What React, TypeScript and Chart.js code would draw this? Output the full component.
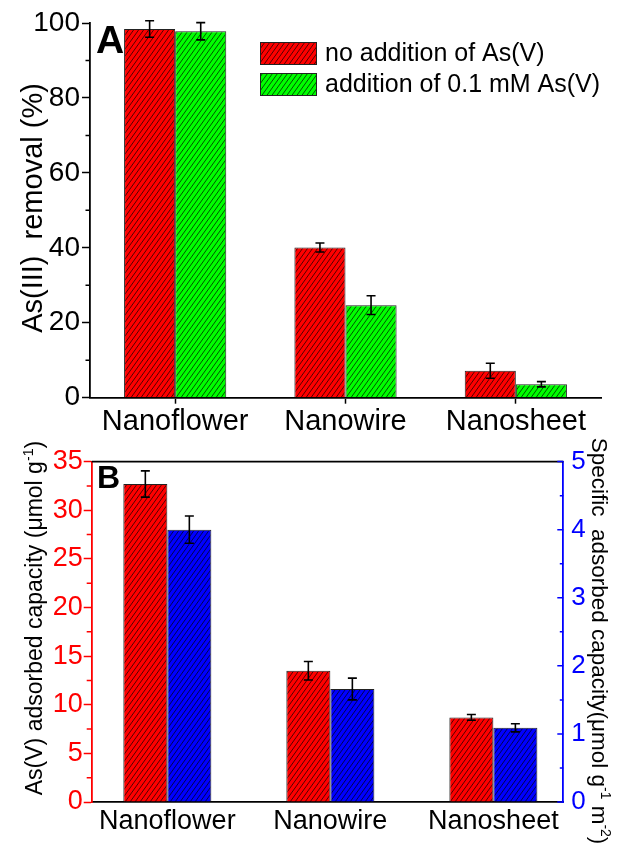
import React, { useEffect, useRef } from 'react';
import { Chart, registerables } from 'chart.js';

Chart.register(...registerables);

const FONT = "'Liberation Sans', Arial, Helvetica, sans-serif";

// ---------- data ----------
const categories = ['Nanoflower', 'Nanowire', 'Nanosheet'];

// Panel A
const seriesALabels = ['no addition of As(V)', 'addition of 0.1 mM As(V)'];
const removalNoAddition = [98.4, 40.1, 7.2];
const removalNoAdditionErr = [2.2, 1.2, 2.0];
const removalAddition = [97.8, 24.7, 3.6];
const removalAdditionErr = [2.3, 2.5, 0.7];
const ticksA = [0, 20, 40, 60, 80, 100];
const minorTicksA = [10, 30, 50, 70, 90];

// Panel B
const adsorbedCapacity = [32.7, 13.5, 8.7];
const adsorbedCapacityErr = [1.35, 0.95, 0.3];
const specificCapacity = [4.0, 1.66, 1.09];
const specificCapacityErr = [0.2, 0.16, 0.06];
const ticksBLeft = [0, 5, 10, 15, 20, 25, 30, 35];
const minorTicksBLeft = [2.5, 7.5, 12.5, 17.5, 22.5, 27.5, 32.5];
const ticksBRight = [0, 1, 2, 3, 4, 5];
const minorTicksBRight = [0.5, 1.5, 2.5, 3.5, 4.5];

// ---------- helpers ----------
function hatch(color: string): CanvasPattern {
  const w = 5, h = 7;
  const c = document.createElement('canvas');
  c.width = w; c.height = h;
  const g = c.getContext('2d')!;
  g.fillStyle = color;
  g.fillRect(0, 0, w, h);
  g.strokeStyle = 'rgba(0,0,0,0.85)';
  g.lineWidth = 0.8;
  for (const dx of [-w, 0, w]) {
    g.beginPath();
    g.moveTo(dx, h);
    g.lineTo(dx + w, 0);
    g.stroke();
  }
  return g.createPattern(c, 'repeat')!;
}

type Seg = { t: string; sup?: boolean };
function drawRich(ctx: CanvasRenderingContext2D, segs: Seg[], cx: number, cy: number, rot: number, size: number, color = '#000') {
  ctx.save();
  ctx.translate(cx, cy);
  ctx.rotate(rot);
  const supSize = size * 0.62;
  const widths = segs.map((s) => {
    ctx.font = `${s.sup ? supSize : size}px ${FONT}`;
    return ctx.measureText(s.t).width;
  });
  const total = widths.reduce((a, b) => a + b, 0);
  let x = -total / 2;
  ctx.textBaseline = 'alphabetic';
  ctx.textAlign = 'left';
  ctx.fillStyle = color;
  const base = size * 0.36;
  segs.forEach((s, i) => {
    ctx.font = `${s.sup ? supSize : size}px ${FONT}`;
    ctx.fillText(s.t, x, s.sup ? base - size * 0.42 : base);
    x += widths[i];
  });
  ctx.restore();
}

function drawMinor(ctx: CanvasRenderingContext2D, scale: any, values: number[], x0: number, x1: number, color: string) {
  ctx.save();
  ctx.strokeStyle = color;
  ctx.lineWidth = 1.5;
  ctx.beginPath();
  values.forEach((v) => {
    const y = scale.getPixelForValue(v);
    ctx.moveTo(x0, y);
    ctx.lineTo(x1, y);
  });
  ctx.stroke();
  ctx.restore();
}

const errorBarPlugin = {
  id: 'errorBars',
  afterDatasetsDraw(chart: any) {
    const ctx = chart.ctx;
    chart.data.datasets.forEach((ds: any, di: number) => {
      const meta = chart.getDatasetMeta(di);
      const ys = chart.scales[meta.yAxisID];
      meta.data.forEach((el: any, i: number) => {
        const v = ds.data[i].y;
        const e = ds.errors[i];
        const x = el.x;
        const t = ys.getPixelForValue(v + e);
        const b = ys.getPixelForValue(v - e);
        ctx.save();
        ctx.strokeStyle = '#000';
        ctx.lineWidth = 1.6;
        ctx.beginPath();
        ctx.moveTo(x, t); ctx.lineTo(x, b);
        ctx.moveTo(x - 4.5, t); ctx.lineTo(x + 4.5, t);
        ctx.moveTo(x - 4.5, b); ctx.lineTo(x + 4.5, b);
        ctx.stroke();
        ctx.restore();
      });
    });
  },
};

const xTicks = (s: any) => {
  s.ticks = categories.map((_, i) => ({ value: i }));
};

// ---------- Panel A ----------
function configA(): any {
  const red = hatch('#ff0000');
  const green = hatch('#00ff00');
  const decoA = {
    id: 'decoA',
    afterDraw(chart: any) {
      const ctx = chart.ctx;
      const ys = chart.scales.y;
      const left = chart.chartArea.left;
      drawMinor(ctx, ys, minorTicksA, left - 4.5, left, '#000');
      // panel letter
      ctx.save();
      ctx.fillStyle = '#000';
      ctx.font = `bold 39px ${FONT}`;
      ctx.textBaseline = 'alphabetic';
      ctx.fillText('A', 96, 53);
      ctx.restore();
      // legend
      const fills = [red, green];
      const boxY = [42, 73];
      ctx.save();
      seriesALabels.forEach((lab, i) => {
        ctx.fillStyle = fills[i];
        ctx.fillRect(260, boxY[i], 56, 22);
        ctx.strokeStyle = '#222';
        ctx.lineWidth = 1;
        ctx.strokeRect(260.5, boxY[i] + 0.5, 56, 22);
        ctx.fillStyle = '#000';
        ctx.font = `25px ${FONT}`;
        ctx.textBaseline = 'middle';
        ctx.fillText(lab, 325, boxY[i] + 12);
      });
      ctx.restore();
      drawRich(ctx, [{ t: 'As(III)  removal (%)' }], 32, 208, -Math.PI / 2, 29);
    },
  };
  return {
    type: 'bar',
    data: {
      datasets: [
        {
          label: seriesALabels[0],
          data: removalNoAddition.map((y, i) => ({ x: i, y })),
          errors: removalNoAdditionErr,
          backgroundColor: red,
          borderColor: '#222',
          borderWidth: 1,
          categoryPercentage: 0.6,
          barPercentage: 1,
        },
        {
          label: seriesALabels[1],
          data: removalAddition.map((y, i) => ({ x: i, y })),
          errors: removalAdditionErr,
          backgroundColor: green,
          borderColor: '#222',
          borderWidth: 1,
          categoryPercentage: 0.6,
          barPercentage: 1,
        },
      ],
    },
    options: {
      responsive: false,
      animation: false,
      devicePixelRatio: 1,
      layout: { padding: { left: 0, right: 19, top: 23, bottom: 0 } },
      plugins: { legend: { display: false }, tooltip: { enabled: false } },
      scales: {
        x: {
          type: 'linear',
          min: -0.5,
          max: 2.5,
          offset: false,
          afterBuildTicks: xTicks,
          afterFit: (s: any) => { s.height = 40.3; },
          ticks: {
            callback: (v: number) => categories[v] ?? '',
            font: { family: FONT, size: 29 },
            color: '#000',
            padding: 1,
            autoSkip: false,
            maxRotation: 0,
          },
          grid: { display: true, offset: false, drawOnChartArea: false, drawTicks: true, tickLength: 6, tickWidth: 1.5, tickColor: '#000' },
          border: { display: true, color: '#000', width: 1.8 },
        },
        y: {
          min: 0,
          max: 100,
          afterBuildTicks: (s: any) => { s.ticks = ticksA.map((value) => ({ value })); },
          afterFit: (s: any) => { s.width = 90; },
          ticks: { font: { family: FONT, size: 28 }, color: '#000', padding: 2 },
          grid: { display: true, drawOnChartArea: false, drawTicks: true, tickLength: 8, tickWidth: 1.5, tickColor: '#000' },
          border: { display: true, color: '#000', width: 1.8 },
        },
      },
    },
    plugins: [errorBarPlugin, decoA],
  };
}

// ---------- Panel B ----------
function configB(): any {
  const red = hatch('#ff0000');
  const blue = hatch('#0000ff');
  const decoB = {
    id: 'decoB',
    afterDraw(chart: any) {
      const ctx = chart.ctx;
      const { left, right, top } = chart.chartArea;
      // top frame line
      ctx.save();
      ctx.strokeStyle = '#000';
      ctx.lineWidth = 1.8;
      ctx.beginPath();
      ctx.moveTo(left, top);
      ctx.lineTo(right, top);
      ctx.stroke();
      ctx.restore();
      drawMinor(ctx, chart.scales.y, minorTicksBLeft, left - 5, left, '#ff0000');
      // right axis ticks point inward
      drawMinor(ctx, chart.scales.y2, ticksBRight, right - 6, right, '#0000ff');
      drawMinor(ctx, chart.scales.y2, minorTicksBRight, right - 3.5, right, '#0000ff');
      ctx.save();
      ctx.fillStyle = '#000';
      ctx.font = `bold 32px ${FONT}`;
      ctx.textBaseline = 'alphabetic';
      ctx.fillText('B', 97, 50);
      ctx.restore();
      drawRich(
        ctx,
        [{ t: 'As(V) adsorbed capacity (μmol g' }, { t: '-1', sup: true }, { t: ')' }],
        34, 180, -Math.PI / 2, 23,
      );
      drawRich(
        ctx,
        [
          { t: 'Specific  adsorbed capacity(μmol g' },
          { t: '-1', sup: true },
          { t: ' m' },
          { t: '-2', sup: true },
          { t: ')' },
        ],
        600, 203, Math.PI / 2, 22.5,
      );
    },
  };
  return {
    type: 'bar',
    data: {
      datasets: [
        {
          label: 'As(V) adsorbed capacity',
          data: adsorbedCapacity.map((y, i) => ({ x: i, y })),
          errors: adsorbedCapacityErr,
          backgroundColor: red,
          borderColor: '#222',
          borderWidth: 1,
          categoryPercentage: 0.54,
          barPercentage: 1,
          yAxisID: 'y',
        },
        {
          label: 'Specific adsorbed capacity',
          data: specificCapacity.map((y, i) => ({ x: i, y })),
          errors: specificCapacityErr,
          backgroundColor: blue,
          borderColor: '#222',
          borderWidth: 1,
          categoryPercentage: 0.54,
          barPercentage: 1,
          yAxisID: 'y2',
        },
      ],
    },
    options: {
      responsive: false,
      animation: false,
      devicePixelRatio: 1,
      layout: { padding: { left: 0, right: 0, top: 15, bottom: 0 } },
      plugins: { legend: { display: false }, tooltip: { enabled: false } },
      scales: {
        x: {
          type: 'linear',
          min: -0.464,
          max: 2.429,
          offset: false,
          afterBuildTicks: xTicks,
          afterFit: (s: any) => { s.height = 43; },
          ticks: {
            callback: (v: number) => categories[v] ?? '',
            font: { family: FONT, size: 27 },
            color: '#000',
            padding: 3,
            autoSkip: false,
            maxRotation: 0,
          },
          grid: { display: false, offset: false, drawTicks: false },
          border: { display: true, color: '#000', width: 1.8 },
        },
        y: {
          position: 'left',
          min: 0,
          max: 35,
          afterBuildTicks: (s: any) => { s.ticks = ticksBLeft.map((value) => ({ value })); },
          afterFit: (s: any) => { s.width = 91.7; },
          ticks: { font: { family: FONT, size: 27 }, color: '#ff0000', padding: 1 },
          grid: { display: true, drawOnChartArea: false, drawTicks: true, tickLength: 8, tickWidth: 1.5, tickColor: '#ff0000' },
          border: { display: true, color: '#ff0000', width: 1.8 },
        },
        y2: {
          position: 'right',
          min: 0,
          max: 5,
          afterBuildTicks: (s: any) => { s.ticks = ticksBRight.map((value) => ({ value })); },
          afterFit: (s: any) => { s.width = 56.7; },
          ticks: { font: { family: FONT, size: 26 }, color: '#0000ff', padding: 8 },
          grid: { display: true, drawOnChartArea: false, drawTicks: false },
          border: { display: true, color: '#0000ff', width: 1.8 },
        },
      },
    },
    plugins: [errorBarPlugin, decoB],
  };
}

export default function App() {
  const refA = useRef<HTMLCanvasElement>(null);
  const refB = useRef<HTMLCanvasElement>(null);
  useEffect(() => {
    const a = new Chart(refA.current!, configA());
    const b = new Chart(refB.current!, configB());
    return () => {
      a.destroy();
      b.destroy();
    };
  }, []);
  return (
    <div style={{ position: 'absolute', left: 0, top: 0, width: 620, height: 845, background: '#fff' }}>
      <canvas ref={refA} width={620} height={438} style={{ position: 'absolute', left: 0, top: 0, width: 620, height: 438 }} />
      <canvas ref={refB} width={620} height={407} style={{ position: 'absolute', left: 0, top: 438, width: 620, height: 407 }} />
    </div>
  );
}
